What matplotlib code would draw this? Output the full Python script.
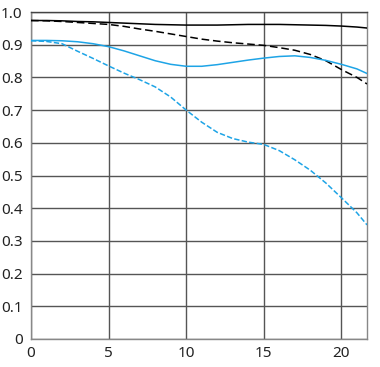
import matplotlib
matplotlib.use("Agg")
from matplotlib import pyplot as plt

plt.rcParams['font.family'] = ['Noto Sans', 'DejaVu Sans']

x = [0, 1, 2, 3, 4, 5, 6, 7, 8, 9, 10, 11, 12, 13, 14, 15, 16, 17, 18, 19, 20, 21, 21.65]
black_solid = [0.974, 0.974, 0.973, 0.971, 0.970, 0.968, 0.966, 0.964, 0.962, 0.961, 0.960, 0.960,
               0.960, 0.961, 0.962, 0.962, 0.962, 0.961, 0.960, 0.959, 0.957, 0.954, 0.951]
black_dashed = [0.974, 0.973, 0.971, 0.968, 0.965, 0.962, 0.956, 0.948, 0.941, 0.933, 0.925, 0.917,
                0.911, 0.906, 0.902, 0.898, 0.891, 0.883, 0.870, 0.851, 0.824, 0.800, 0.780]
blue_solid = [0.913, 0.913, 0.912, 0.909, 0.903, 0.894, 0.881, 0.866, 0.851, 0.840, 0.834, 0.834,
              0.839, 0.846, 0.853, 0.859, 0.864, 0.866, 0.861, 0.852, 0.840, 0.826, 0.812]
blue_dashed = [0.912, 0.910, 0.903, 0.880, 0.858, 0.835, 0.813, 0.793, 0.771, 0.740, 0.700, 0.663,
               0.632, 0.613, 0.602, 0.595, 0.576, 0.548, 0.516, 0.477, 0.432, 0.386, 0.349]

xticks = [0, 5, 10, 15, 20]
yticks = [0, 0.1, 0.2, 0.3, 0.4, 0.5, 0.6, 0.7, 0.8, 0.9, 1.0]
ylabels = ["0", "0.1", "0.2", "0.3", "0.4", "0.5", "0.6", "0.7", "0.8", "0.9", "1.0"]

blue = "#1ea4e6"

fig = plt.figure(figsize=(3.8, 3.67), dpi=100)
ax = fig.add_axes([31/380, 28/367, 336/380, 327/367])

ax.plot(x, black_solid, color="black", lw=1.1, zorder=3)
ax.plot(x, black_dashed, color="black", lw=1.1, dashes=(5, 2.5), zorder=3)
ax.plot(x, blue_solid, color=blue, lw=1.1, zorder=3)
ax.plot(x, blue_dashed, color=blue, lw=1.1, dashes=(3.5, 1.5), zorder=3)

ax.set_xlim(0, 21.65)
ax.set_ylim(0, 1.0)
ax.set_xticks(xticks)
ax.set_yticks(yticks)
ax.set_yticklabels(ylabels)
ax.tick_params(length=0, labelsize=11, colors="#222222")
ax.tick_params(axis="y", pad=6)
ax.tick_params(axis="x", pad=5)
ax.grid(True, color="#555555", lw=1.0)
for s in ax.spines.values():
    s.set_color("#888888")
    s.set_linewidth(1.0)
ax.spines["top"].set_color("#444444")

fig.savefig("out.png", dpi=100)
